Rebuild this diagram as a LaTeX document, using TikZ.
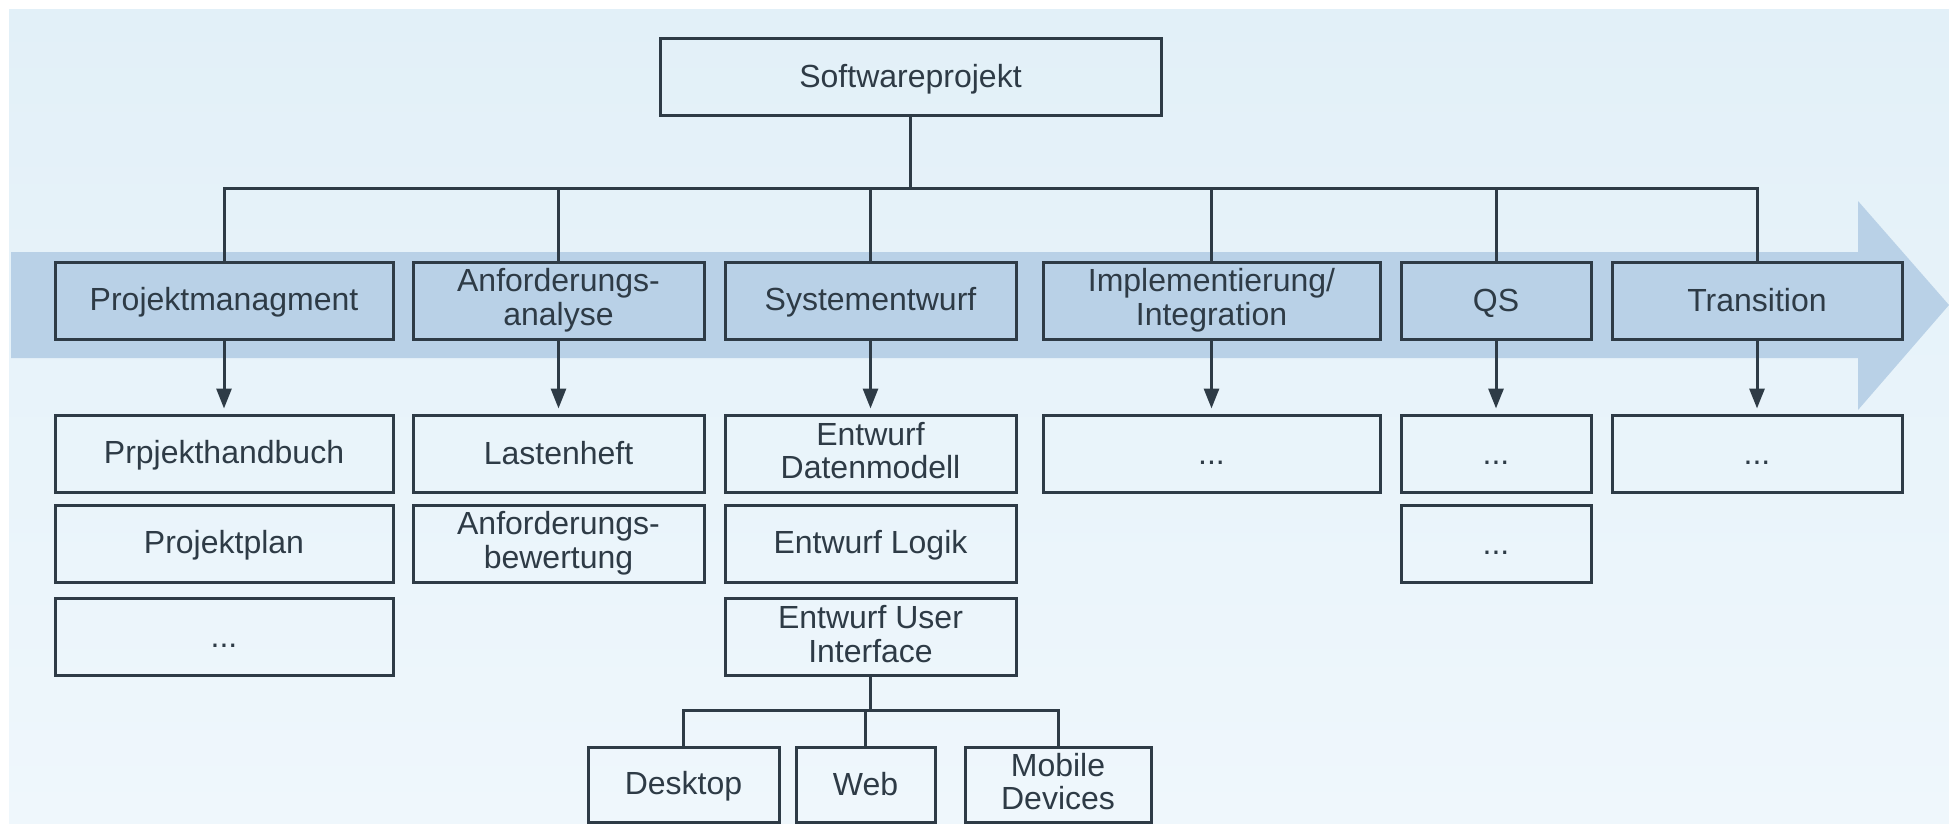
\documentclass[tikz,border=0pt]{standalone}
\usepackage{fontspec}
\setmainfont{Liberation Sans}
\usetikzlibrary{arrows.meta}
\definecolor{bgtop}{HTML}{E2F0F8}
\definecolor{bgbottom}{HTML}{EFF7FC}
\definecolor{band}{HTML}{B9D1E7}
\definecolor{ink}{HTML}{2E3B46}
\newcommand*{\more}{...}
\newcommand*{\boxstrut}{\rule[-3pt]{0pt}{16.8pt}}

\begin{document}
\begin{tikzpicture}[x=1pt, y=1pt, line width=1.5pt, color=ink]
      \useasboundingbox (0,0) rectangle (974.5,-412);
      \fill[white] (0,0) rectangle (974.5,-412);
      \shade[top color=bgtop, bottom color=bgbottom] (4.5,-5) rectangle (974.5,-411.5);
      \fill[band]
        (5.5,-126) -- (929,-126) -- (929,-100.5) -- (974.5,-152.5)
        -- (929,-205) -- (929,-179) -- (5.5,-179) -- cycle;

      \coordinate (bus) at (0,-94);
      \coordinate (uibus) at (0,-355);

      {\tikzstyle{every node}=[rectangle, draw, line width=1.5pt, align=center,
          inner sep=0pt, minimum height=38.5pt, font=\fontsize{16}{16.8}\selectfont,
          execute at begin node=\boxstrut, execute at end node=\boxstrut]
        \tikzstyle{phase}=[fill=band]

        \node[minimum width=250.5pt] (top) at (455.25,-38.5) {Softwareprojekt};

        \foreach \p/\x/\w/\txt in {pm/112/169/Projektmanagment,
            an/279.25/145.5/{Anforderungs-\\analyse},
            sy/435.25/145.5/Systementwurf,
            im/605.75/168.5/{Implementierung/\\Integration},
            qs/748/95/QS,
            tr/878.5/145/Transition}
        {
          \node[phase, minimum width=\w pt] (\p) at (\x,-150.25) {\txt};
        }

        \foreach \c/\x/\w/\y/\txt in {pm1/112/169/-226.75/Prpjekthandbuch,
            pm2/112/169/-271.75/Projektplan,
            pm3/112/169/-318.5/\more,
            an1/279.25/145.5/-226.75/Lastenheft,
            an2/279.25/145.5/-271.75/{Anforderungs-\\bewertung},
            sy1/435.25/145.5/-226.75/{Entwurf\\Datenmodell},
            sy2/435.25/145.5/-271.75/Entwurf Logik,
            sy3/435.25/145.5/-318.5/{Entwurf User\\Interface},
            im1/605.75/168.5/-226.75/\more,
            qs1/748/95/-226.75/\more,
            qs2/748/95/-271.75/\more,
            tr1/878.5/145/-226.75/\more}
        {
          \node[minimum width=\w pt] (\c) at (\x,\y) {\txt};
        }

        \foreach \c/\x/\w/\txt in {desk/341.75/95.5/Desktop,
            web/432.75/69.5/Web,
            mob/529/93/{Mobile\\Devices}}
        {
          \node[minimum width=\w pt, minimum height=37.5pt] (\c) at (\x,-392.25) {\txt};
        }
      }

      \foreach \p in {pm, an, sy, im, qs, tr}
        \draw (top.south) -- (top.south |- bus) -| (\p.north);

      \foreach \p in {pm, an, sy, im, qs, tr}
        \draw[-{Triangle[width=7.5pt, length=10pt]}, shorten >=2.5pt]
          (\p.south) -- (\p1.north);

      \foreach \c in {desk, web, mob}
        \draw (sy3.south) -- (sy3.south |- uibus) -| (\c.north);
    \end{tikzpicture}
\end{document}
